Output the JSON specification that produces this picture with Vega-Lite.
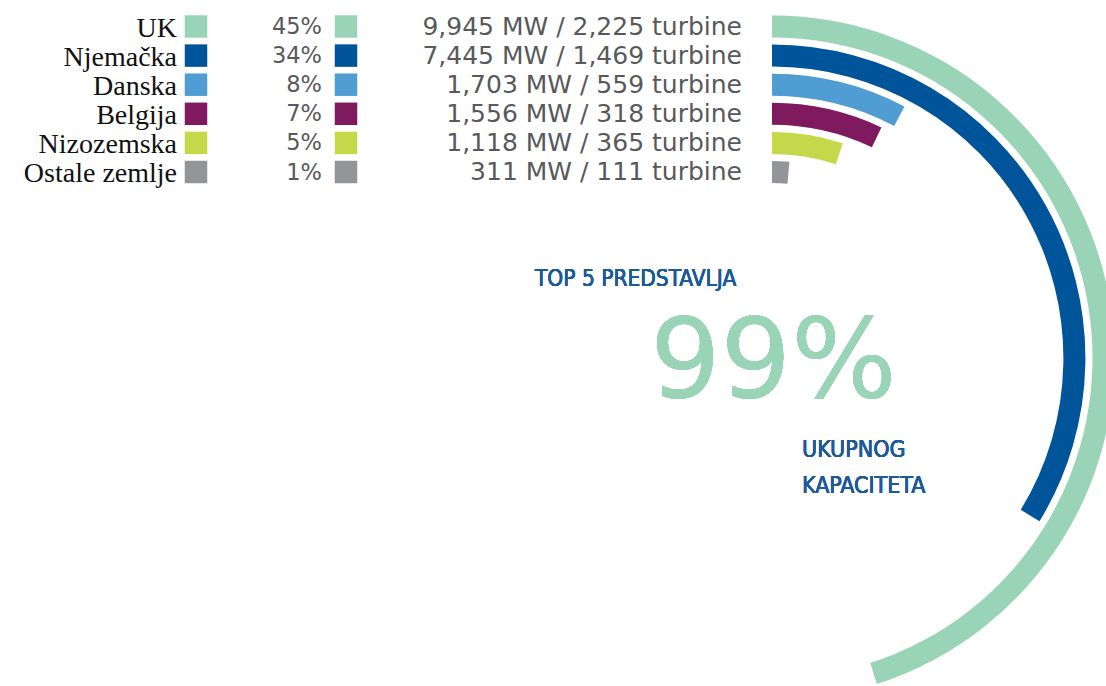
{
  "$schema": "https://vega.github.io/schema/vega-lite/v6.json",
  "width": 1106,
  "height": 686,
  "autosize": "none",
  "padding": 0,
  "background": "white",
  "config": {"view": {"stroke": null}},
  "data": {
    "values": [
      {"country": "UK", "pct": "45%", "mw": 9945, "turbines": 2225, "label": "9,945 MW / 2,225 turbine"},
      {"country": "Njemačka", "pct": "34%", "mw": 7445, "turbines": 1469, "label": "7,445 MW / 1,469 turbine"},
      {"country": "Danska", "pct": "8%", "mw": 1703, "turbines": 559, "label": "1,703 MW / 559 turbine"},
      {"country": "Belgija", "pct": "7%", "mw": 1556, "turbines": 318, "label": "1,556 MW / 318 turbine"},
      {"country": "Nizozemska", "pct": "5%", "mw": 1118, "turbines": 365, "label": "1,118 MW / 365 turbine"},
      {"country": "Ostale zemlje", "pct": "1%", "mw": 311, "turbines": 111, "label": "311 MW / 111 turbine"}
    ]
  },
  "layer": [
    {
      "mark": {"type": "arc", "x": 772, "y": 358, "radius2Offset": -22},
      "encoding": {
        "theta": {"field": "mw", "type": "quantitative", "stack": null, "scale": {"domain": [0, 22078], "range": [0, 6.283185307]}},
        "theta2": {"datum": 0},
        "radius": {"field": "country", "type": "nominal", "scale": {"type": "point", "padding": 0, "domain": ["UK", "Njemačka", "Danska", "Belgija", "Nizozemska", "Ostale zemlje"], "range": [342.5, 197]}},
        "radius2": {"field": "country"},
        "color": {"field": "country", "type": "nominal", "legend": null, "scale": {"domain": ["UK", "Njemačka", "Danska", "Belgija", "Nizozemska", "Ostale zemlje"], "range": ["#99d4b7", "#00549a", "#4f9dd2", "#801a5f", "#c4d94a", "#939598"]}}
      }
    },
    {
      "mark": {"type": "text", "align": "right", "baseline": "alphabetic", "dy": 10, "font": "Liberation Serif", "fontSize": 28, "color": "#111111"},
      "encoding": {
        "x": {"value": 177},
        "y": {"field": "country", "type": "nominal", "axis": null, "scale": {"type": "point", "padding": 0, "domain": ["UK", "Njemačka", "Danska", "Belgija", "Nizozemska", "Ostale zemlje"], "range": [26.5, 172]}},
        "text": {"field": "country"}
      }
    },
    {
      "mark": {"type": "square", "size": 506, "opacity": 1},
      "encoding": {
        "x": {"value": 196},
        "y": {"field": "country", "type": "nominal"},
        "color": {"field": "country", "type": "nominal", "legend": null}
      }
    },
    {
      "mark": {"type": "text", "align": "right", "baseline": "alphabetic", "dy": 7.5, "font": "DejaVu Sans", "fontSize": 22.5, "color": "#58595b"},
      "encoding": {
        "x": {"value": 322},
        "y": {"field": "country", "type": "nominal"},
        "text": {"field": "pct"}
      }
    },
    {
      "mark": {"type": "square", "size": 506, "opacity": 1},
      "encoding": {
        "x": {"value": 346},
        "y": {"field": "country", "type": "nominal"},
        "color": {"field": "country", "type": "nominal", "legend": null}
      }
    },
    {
      "mark": {"type": "text", "align": "right", "baseline": "alphabetic", "dy": 8, "font": "DejaVu Sans", "fontSize": 25, "color": "#58595b"},
      "encoding": {
        "x": {"value": 742},
        "y": {"field": "country", "type": "nominal"},
        "text": {"field": "label"}
      }
    },
    {
      "mark": {"type": "text", "text": "TOP 5 PREDSTAVLJA", "align": "left", "baseline": "alphabetic", "font": "DejaVu Sans Condensed, Liberation Sans Narrow, Liberation Sans, sans-serif", "fontSize": 22.5, "color": "#1d5a98"},
      "encoding": {"x": {"value": 535}, "y": {"value": 286}}
    },
    {
      "mark": {"type": "text", "text": "99%", "align": "left", "baseline": "alphabetic", "font": "DejaVu Sans", "fontSize": 111, "color": "#99d4b7"},
      "encoding": {"x": {"value": 650}, "y": {"value": 397}}
    },
    {
      "mark": {"type": "text", "text": ["UKUPNOG", "KAPACITETA"], "lineHeight": 36, "align": "left", "baseline": "alphabetic", "font": "DejaVu Sans Condensed, Liberation Sans Narrow, Liberation Sans, sans-serif", "fontSize": 23, "color": "#1d5a98"},
      "encoding": {"x": {"value": 802}, "y": {"value": 457}}
    }
  ]
}
